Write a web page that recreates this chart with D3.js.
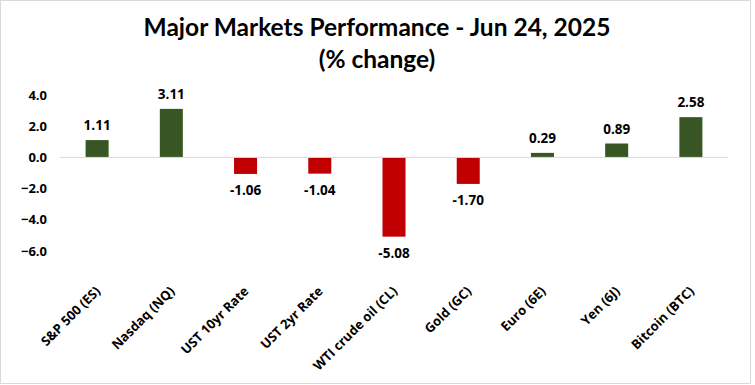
<!DOCTYPE html>
<html>
<head>
<meta charset="utf-8">
<script src="https://cdn.jsdelivr.net/npm/d3@7"></script>
<style>
  body { margin: 0; background: #fff; }
  svg { display: block; }
</style>
</head>
<body>
<div id="chart"></div>
<script>
var categories = ['S&P 500 (ES)', 'Nasdaq (NQ)', 'UST 10yr Rate', 'UST 2yr Rate',
  'WTI crude oil (CL)', 'Gold (GC)', 'Euro (6E)', 'Yen (6J)', 'Bitcoin (BTC)'];
var values = [1.11, 3.11, -1.06, -1.04, -5.08, -1.70, 0.29, 0.89, 2.58];
var yTicks = [4, 2, 0, -2, -4, -6];
var titleLines = ['Major Markets Performance - Jun 24, 2025', '(% change)'];

var WIDTH = 755, HEIGHT = 385;
var COLOR_UP = '#375623', COLOR_DOWN = '#C00000';
var TITLE_FONT = 'Lato, sans-serif';
var LABEL_FONT = '"Open Sans", sans-serif';

var svg = d3.select('#chart').append('svg')
  .attr('width', WIDTH)
  .attr('height', HEIGHT);

svg.append('rect')
  .attr('x', 0.5).attr('y', 0.5)
  .attr('width', 750).attr('height', 383)
  .attr('fill', '#fff')
  .attr('stroke', '#d9d9d9');

// title
svg.selectAll('text.title')
  .data(titleLines)
  .enter().append('text')
  .attr('class', 'title')
  .attr('x', 377)
  .attr('y', function (d, i) { return 36 + i * 32; })
  .attr('text-anchor', 'middle')
  .attr('font-family', TITLE_FONT)
  .attr('font-weight', 'bold')
  .attr('font-size', '24.5px')
  .attr('fill', '#000')
  .text(function (d) { return d; });

var x = d3.scaleBand()
  .domain(categories)
  .range([60, 728])
  .paddingInner(0.69)
  .paddingOuter(0.345);

var y = d3.scaleLinear()
  .domain([-6, 4])
  .range([251, 95]);

// y axis labels, no line
var yAxis = svg.append('g')
  .attr('transform', 'translate(47,0)')
  .call(d3.axisLeft(y).tickValues(yTicks).tickSize(0).tickPadding(0).tickFormat(d3.format('.1f')));
yAxis.select('.domain').remove();
yAxis.selectAll('text')
  .attr('font-family', LABEL_FONT)
  .attr('font-weight', 'bold')
  .attr('font-size', '13px')
  .attr('fill', '#000');

// bars
svg.selectAll('rect.bar')
  .data(values)
  .enter().append('rect')
  .attr('class', 'bar')
  .attr('x', function (d, i) { return x(categories[i]); })
  .attr('width', x.bandwidth())
  .attr('y', function (d) { return y(Math.max(0, d)); })
  .attr('height', function (d) { return Math.abs(y(d) - y(0)); })
  .attr('fill', function (d) { return d >= 0 ? COLOR_UP : COLOR_DOWN; });

// zero line
svg.append('line')
  .attr('x1', 60).attr('x2', 728)
  .attr('y1', y(0)).attr('y2', y(0))
  .attr('stroke', '#d9d9d9')
  .attr('stroke-width', 1);

// data labels
svg.selectAll('text.val')
  .data(values)
  .enter().append('text')
  .attr('class', 'val')
  .attr('x', function (d, i) { return x(categories[i]) + x.bandwidth() / 2; })
  .attr('y', function (d) { return d >= 0 ? y(d) - 10 : y(d) + 21; })
  .attr('text-anchor', 'middle')
  .attr('font-family', LABEL_FONT)
  .attr('font-weight', 'bold')
  .attr('font-size', '13.5px')
  .attr('fill', '#000')
  .text(function (d) { return d.toFixed(2); });

// category labels, rotated
svg.selectAll('text.cat')
  .data(categories)
  .enter().append('text')
  .attr('class', 'cat')
  .attr('transform', function (d) {
    return 'translate(' + (x(d) + x.bandwidth() / 2 + 4) + ',' + 292 + ') rotate(-45)';
  })
  .attr('text-anchor', 'end')
  .attr('font-family', LABEL_FONT)
  .attr('font-weight', 'bold')
  .attr('font-size', '13px')
  .attr('fill', '#000')
  .text(function (d) { return d; });
</script>
</body>
</html>
